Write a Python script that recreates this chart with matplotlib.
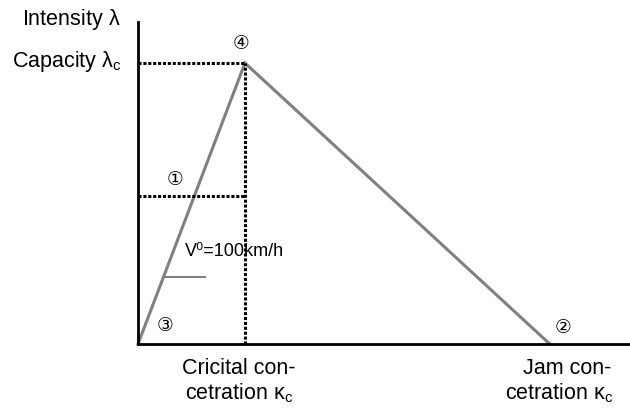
import matplotlib
matplotlib.use("Agg")
import matplotlib.pyplot as plt

plt.rcParams['font.family'] = ['Liberation Sans', 'DejaVu Sans']
plt.rcParams['mathtext.fontset'] = 'custom'
plt.rcParams['mathtext.rm'] = 'Liberation Sans'
plt.rcParams['mathtext.it'] = 'Liberation Sans'

# fundamental diagram (triangular)
v_free = 100          # km/h
kappa_c = 20          # critical concentration
kappa_jam = 77        # jam concentration
capacity = v_free * kappa_c
lambda_mid = 1050     # second dotted level

curve_x = [0, kappa_c, kappa_jam]
curve_y = [0, capacity, 0]

fig = plt.figure(figsize=(6.3, 4.09), dpi=100)
ax = fig.add_axes([138/630, 65/409, 492/630, 322/409])
ax.set_xlim(0, 92)
ax.set_ylim(0, 2292)

ax.plot(curve_x, curve_y, color='#808080', lw=2.2, solid_joinstyle='miter', clip_on=False)

dot = dict(color='black', lw=2.2, linestyle=(0, (1, 0.6)))
ax.plot([0, kappa_c], [capacity, capacity], **dot)
ax.plot([kappa_c, kappa_c], [0, capacity], **dot)
ax.plot([0, kappa_c], [lambda_mid, lambda_mid], **dot)

# slope marker for free speed
ax.plot([5.0, 12.5], [477, 477], color='#808080', lw=1.5)
ax.text(8.7, 655, "V\u2070=100km/h", fontsize=13, ha='left', va='center')

circ = dict(fontsize=13.5, ha='center', va='center', family=['DejaVu Sans'])
ax.text(6.9, 1174, "\u2460", **circ)
ax.text(79.5, 114, "\u2461", **circ)
ax.text(5.0, 135, "\u2462", **circ)
ax.text(19.2, 2142, "\u2463", clip_on=False, **circ)

for s in ['top', 'right']:
    ax.spines[s].set_visible(False)
for s in ['left', 'bottom']:
    ax.spines[s].set_linewidth(2)
ax.set_xticks([])
ax.set_yticks([])

fs = 15.5
fig.text(121/630, 1 - 20/409, r"Intensity $\lambda$", fontsize=fs, ha='right', va='center')
fig.text(121/630, 1 - 62/409, r"Capacity $\lambda_\mathrm{c}$", fontsize=fs, ha='right', va='center')
fig.text(239/630, 1 - 368/409, "Cricital con-", fontsize=fs, ha='center', va='center')
fig.text(239/630, 1 - 393/409, r"cetration $\kappa_\mathrm{c}$", fontsize=fs, ha='center', va='center')
fig.text(611/630, 1 - 368/409, "Jam con-", fontsize=fs, ha='right', va='center')
fig.text(613/630, 1 - 393/409, r"cetration $\kappa_\mathrm{c}$", fontsize=fs, ha='right', va='center')

fig.savefig("out.png", dpi=100)
